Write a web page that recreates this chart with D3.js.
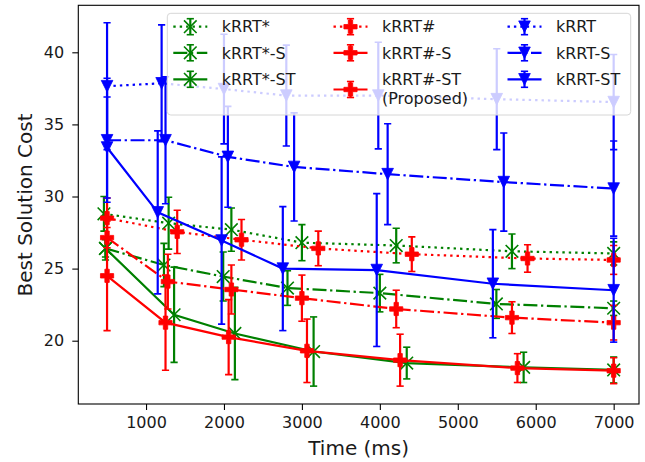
<!DOCTYPE html>
<html>
<head>
<meta charset="utf-8">
<script src="https://cdn.jsdelivr.net/npm/d3@7"></script>
<style>
  html, body { margin: 0; padding: 0; background: #fff; }
  svg { display: block; font-family: "DejaVu Sans", sans-serif; }
</style>
</head>
<body>
<svg id="chart" width="645" height="462"></svg>
<script>
// ---------------- data ----------------
const seriesNames = ["kRRT*", "kRRT*-S", "kRRT*-ST", "kRRT#", "kRRT#-S", "kRRT#-ST\n(Proposed)", "kRRT", "kRRT-S", "kRRT-ST"];

const kRRTstar_t     = [460, 1290, 2095, 3000, 4210, 5695, 7000];
const kRRTstar_cost  = [28.8, 28.15, 27.7, 26.8, 26.6, 26.2, 26.05];
const kRRTstar_err   = [1.2, 1.8, 1.5, 1.25, 1.2, 1.2, 0.8];

const kRRTstarS_t    = [480, 1230, 1990, 2815, 4000, 5495, 7000];
const kRRTstarS_cost = [26.4, 25.25, 24.45, 23.65, 23.3, 22.55, 22.25];
const kRRTstarS_err  = [0.6, 1.5, 1.7, 1.2, 1.3, 1.0, 0.5];

const kRRTstarST_t    = [480, 1360, 2140, 3150, 4345, 5845, 7000];
const kRRTstarST_cost = [26.4, 21.8, 20.5, 19.25, 18.45, 18.15, 17.97];
const kRRTstarST_err  = [0.8, 3.3, 3.2, 2.4, 1.1, 1.05, 0.9];

const kRRTsharp_t    = [500, 1400, 2225, 3210, 4410, 5895, 7000];
const kRRTsharp_cost = [28.5, 27.55, 27.0, 26.4, 26.0, 25.7, 25.6];
const kRRTsharp_err  = [1.4, 1.5, 1.4, 1.2, 1.2, 0.95, 1.0];

const kRRTsharpS_t    = [500, 1280, 2095, 3000, 4210, 5695, 7000];
const kRRTsharpS_cost = [27.15, 24.1, 23.55, 22.95, 22.2, 21.6, 21.25];
const kRRTsharpS_err  = [0.7, 1.9, 1.7, 1.6, 1.3, 1.1, 1.2];

const kRRTsharpST_t    = [500, 1250, 2060, 3065, 4260, 5765, 7000];
const kRRTsharpST_cost = [24.5, 21.25, 20.25, 19.3, 18.65, 18.1, 17.92];
const kRRTsharpST_err  = [3.8, 3.3, 2.6, 2.2, 1.8, 1.0, 0.9];

const kRRT_t    = [500, 1200, 2000, 2800, 3980, 5500, 7000];
const kRRT_cost = [37.65, 37.85, 37.45, 37.0, 37.0, 36.75, 36.55];
const kRRT_err  = [4.4, 4.05, 3.8, 3.5, 3.7, 3.5, 3.3];

const kRRTS_t    = [500, 1250, 2050, 2900, 4100, 5590, 7000];
const kRRTS_cost = [33.9, 33.9, 32.75, 32.05, 31.55, 31.0, 30.55];
const kRRTS_err  = [4.3, 4.4, 3.5, 3.75, 3.5, 3.4, 3.3];

const kRRTST_t    = [500, 1150, 1970, 2755, 3960, 5450, 7000];
const kRRTST_cost = [33.4, 28.9, 26.95, 25.0, 24.9, 23.95, 23.5];
const kRRTST_err  = [3.5, 5.65, 5.8, 4.3, 5.3, 3.75, 3.6];

const xTicks = [1000, 2000, 3000, 4000, 5000, 6000, 7000];
const yTicks = [20, 25, 30, 35, 40];
const xLabel = "Time (ms)";
const yLabel = "Best Solution Cost";

// ---------------- styles ----------------
const GREEN = "#008000", RED = "#ff0000", BLUE = "#0000ff";
const LW = 2.2;
const DOT = "2.4,4.0";
const DASHDOT = "14,3.6,2.3,3.6";

const seriesT = [kRRTstar_t, kRRTstarS_t, kRRTstarST_t, kRRTsharp_t, kRRTsharpS_t, kRRTsharpST_t, kRRT_t, kRRTS_t, kRRTST_t];
const seriesC = [kRRTstar_cost, kRRTstarS_cost, kRRTstarST_cost, kRRTsharp_cost, kRRTsharpS_cost, kRRTsharpST_cost, kRRT_cost, kRRTS_cost, kRRTST_cost];
const seriesE = [kRRTstar_err, kRRTstarS_err, kRRTstarST_err, kRRTsharp_err, kRRTsharpS_err, kRRTsharpST_err, kRRT_err, kRRTS_err, kRRTST_err];
const colors  = [GREEN, GREEN, GREEN, RED, RED, RED, BLUE, BLUE, BLUE];
const dashes  = [DOT, DASHDOT, null, DOT, DASHDOT, null, DOT, DASHDOT, null];
const markers = ["x", "x", "x", "P", "P", "P", "v", "v", "v"];

const series = seriesNames.map((name, i) => ({
  name, color: colors[i], dash: dashes[i], marker: markers[i],
  pts: seriesT[i].map((t, j) => ({ t, c: seriesC[i][j], e: seriesE[i][j] }))
}));

// ---------------- layout ----------------
const svg = d3.select("#chart");
const L = 78.3, R = 639, T = 5.3, B = 404;
const x = d3.scaleLinear().domain([131, 7325]).range([L, R]);
const y = d3.scaleLinear().domain([15.61, 43.26]).range([B, T]);

svg.append("rect").attr("width", 645).attr("height", 462).attr("fill", "#fff");

const clipId = "plotclip";
svg.append("defs").append("clipPath").attr("id", clipId)
  .append("rect").attr("x", L).attr("y", T).attr("width", R - L).attr("height", B - T);

// marker path generator
function markerPath(type) {
  if (type === "v") { const s = 5.8; return `M${-s},${-s}L${s},${-s}L0,${s}Z`; }
  if (type === "P") {
    const a = 6.6, w = 2.2;
    return `M${-w},${-a}L${w},${-a}L${w},${-w}L${a},${-w}L${a},${w}L${w},${w}L${w},${a}L${-w},${a}L${-w},${w}L${-a},${w}L${-a},${-w}L${-w},${-w}Z`;
  }
  const s = 6.3; return `M${-s},${-s}L${s},${s}M${-s},${s}L${s},${-s}`;
}
function drawMarker(g, type, color, cx, cy) {
  const p = g.append("path").attr("d", markerPath(type)).attr("transform", `translate(${cx},${cy})`);
  if (type === "x") p.attr("fill", "none").attr("stroke", color).attr("stroke-width", 1.6);
  else p.attr("fill", color).attr("stroke", color).attr("stroke-width", 0.8).attr("stroke-linejoin", "miter");
}

const plot = svg.append("g").attr("clip-path", `url(#${clipId})`);
const line = d3.line().x(d => x(d.t)).y(d => y(d.c));
const CAP = 3.6;

series.forEach(s => {
  const g = plot.append("g");
  // data line
  const path = g.append("path").datum(s.pts).attr("d", line)
    .attr("fill", "none").attr("stroke", s.color).attr("stroke-width", LW);
  if (s.dash) path.attr("stroke-dasharray", s.dash);
  // error bars
  s.pts.forEach(d => {
    const cx = x(d.t), y1 = y(d.c - d.e), y2 = y(d.c + d.e);
    g.append("line").attr("x1", cx).attr("x2", cx).attr("y1", y1).attr("y2", y2)
      .attr("stroke", s.color).attr("stroke-width", LW);
    [y1, y2].forEach(yy => g.append("line").attr("x1", cx - CAP).attr("x2", cx + CAP)
      .attr("y1", yy).attr("y2", yy).attr("stroke", s.color).attr("stroke-width", 1.6));
  });
  // markers
  s.pts.forEach(d => drawMarker(g, s.marker, s.color, x(d.t), y(d.c)));
});

// ---------------- axes ----------------
const xAxis = svg.append("g").attr("transform", `translate(0,${B})`)
  .call(d3.axisBottom(x).tickValues(xTicks).tickSize(6).tickPadding(6.6).tickFormat(d3.format("d")));
const yAxis = svg.append("g").attr("transform", `translate(${L},0)`)
  .call(d3.axisLeft(y).tickValues(yTicks).tickSize(6).tickPadding(8.2).tickFormat(d3.format("d")));
[xAxis, yAxis].forEach(a => {
  a.select(".domain").remove();
  a.selectAll(".tick line").attr("stroke", "#000").attr("stroke-width", 1.1);
  a.selectAll(".tick text").attr("fill", "#1a1a1a").style("font-size", "16px").style("font-family", "DejaVu Sans");
});

svg.append("rect").attr("x", L).attr("y", T).attr("width", R - L).attr("height", B - T)
  .attr("fill", "none").attr("stroke", "#000").attr("stroke-width", 1.1);

svg.append("text").attr("x", (L + R) / 2).attr("y", 455).attr("text-anchor", "middle")
  .style("font-size", "20px").attr("fill", "#1a1a1a").text(xLabel);
svg.append("text").attr("transform", `translate(32.3,205) rotate(-90)`).attr("text-anchor", "middle")
  .style("font-size", "20px").attr("fill", "#1a1a1a").text(yLabel);

// ---------------- legend ----------------
const leg = svg.append("g");
leg.append("rect").attr("x", 167.3).attr("y", 13.3).attr("width", 630.7 - 167.3).attr("height", 115 - 13.3)
  .attr("rx", 3.5).attr("fill", "#fff").attr("fill-opacity", 0.8)
  .attr("stroke", "#d6d6d6").attr("stroke-width", 1);

const colX = [173.3, 333.5, 507.5];
const HW = 34, TEXTOFF = 48.4;
const rowY = [26.7, 52.8, 79.3];

series.forEach((s, i) => {
  const col = Math.floor(i / 3), row = i % 3;
  const x0 = colX[col];
  const lines = s.name.split("\n");
  const cy = lines.length > 1 ? 89.5 : rowY[row];
  const cx = x0 + HW / 2;
  const hl = leg.append("line").attr("x1", x0).attr("x2", x0 + HW).attr("y1", cy).attr("y2", cy)
    .attr("stroke", s.color).attr("stroke-width", LW);
  if (s.dash) hl.attr("stroke-dasharray", s.dash);
  leg.append("line").attr("x1", cx).attr("x2", cx).attr("y1", cy - 8).attr("y2", cy + 8)
    .attr("stroke", s.color).attr("stroke-width", LW);
  [cy - 8, cy + 8].forEach(yy => leg.append("line").attr("x1", cx - CAP).attr("x2", cx + CAP)
    .attr("y1", yy).attr("y2", yy).attr("stroke", s.color).attr("stroke-width", 1.6));
  drawMarker(leg, s.marker, s.color, cx, cy);
  lines.forEach((t, k) => {
    leg.append("text").attr("x", x0 + TEXTOFF).attr("y", rowY[row] + k * 19).attr("dy", "0.36em")
      .style("font-size", "16px").attr("fill", "#1a1a1a").text(t);
  });
});
</script>
</body>
</html>
